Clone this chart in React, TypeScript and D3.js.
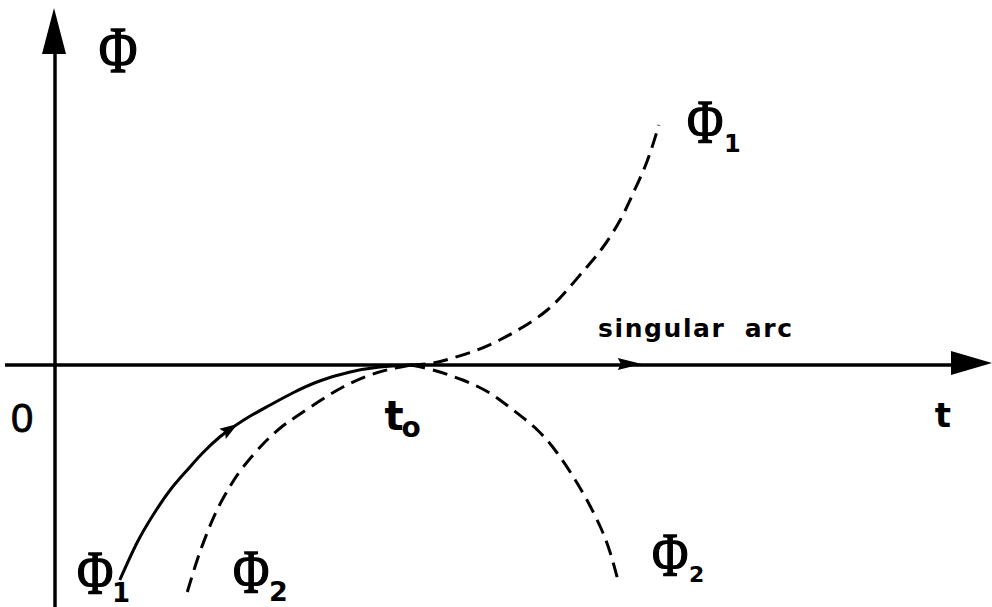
import React from "react";
import * as d3 from "d3";

// ---- data (t in arbitrary units, Φ in arbitrary units) ----
// Φ1 before t0 (solid, trajectory approaching the singular arc)
const tPhi1Left = [7.2, 9.1, 10.9, 12.8, 14.7, 16.4, 18.3, 19.8, 21.7, 23.9, 26.4, 29.4, 32.8, 36.1, 39.5];
const phi1Left = [-21.5, -17.8, -15.0, -12.5, -10.5, -8.8, -7.2, -6.2, -5.1, -4.0, -2.8, -1.6, -0.7, -0.2, 0];
// Φ2 before t0 (dashed)
const tPhi2Left = [14.7, 15.8, 16.9, 18.0, 19.4, 20.9, 22.8, 23.9, 25.3, 26.9, 29.4, 32.0, 35.0, 37.8, 39.5];
const phi2Left = [-22.7, -19.5, -16.8, -14.5, -12.2, -10.2, -8.2, -7.2, -6.1, -5.1, -3.6, -2.2, -1.0, -0.3, 0];
// Φ1 after t0 (dashed, rising)
const tPhi1Right = [39.5, 42.0, 44.2, 46.9, 49.4, 52.0, 54.7, 56.9, 59.1, 60.9, 62.8, 64.3, 65.8, 67.1];
const phi1Right = [0, 0.2, 0.7, 1.5, 2.5, 3.8, 5.5, 7.5, 9.8, 11.8, 14.5, 17.3, 20.4, 24.0];
// Φ2 after t0 (dashed, falling)
const tPhi2Right = [39.5, 42.0, 45.3, 48.3, 50.9, 53.6, 55.8, 57.6, 59.1, 60.6, 61.7, 62.6];
const phi2Right = [0, -0.5, -1.5, -2.8, -4.5, -6.5, -8.8, -11.2, -13.5, -16.2, -18.8, -21.7];

const curveArrowT = 20.3; // direction arrow on Φ1
const singularArrowT = 65.2; // arrow on the singular arc

const yAxisLabel = "Φ";
const xAxisLabel = "t";
const originLabel = "0";
const t0Label = "t";
const t0Sub = "o";
const singularLabel = "singular arc";
const curveLabels = [
  { name: "Φ", sub: "1" }, // upper right
  { name: "Φ", sub: "1" }, // lower left
  { name: "Φ", sub: "2" }, // lower middle
  { name: "Φ", sub: "2" }, // lower right
];

// ---- layout ----
const W = 992;
const H = 607;
const x = d3.scaleLinear().domain([0, 100]).range([55, 955]);
const y = d3.scaleLinear().domain([-24, 36]).range([605, 5]);

const zip = (ts: number[], ps: number[]) => ts.map((t, i) => [t, ps[i]] as [number, number]);

const line = d3
  .line<[number, number]>()
  .x((d) => x(d[0]))
  .y((d) => y(d[1]))
  .curve(d3.curveNatural);

function arrowAt(pts: [number, number][], t: number, len: number, half: number) {
  let i = 0;
  while (i < pts.length - 2 && pts[i + 1][0] < t) i++;
  const a = pts[i];
  const b = pts[i + 1];
  const f = (t - a[0]) / (b[0] - a[0]);
  const px = x(a[0] + f * (b[0] - a[0]));
  const py = y(a[1] + f * (b[1] - a[1]));
  const dx = x(b[0]) - x(a[0]);
  const dy = y(b[1]) - y(a[1]);
  const L = Math.hypot(dx, dy);
  const ux = dx / L;
  const uy = dy / L;
  const bx = px - ux * len;
  const by = py - uy * len;
  return `M${px},${py}L${bx - uy * half},${by + ux * half}L${bx + ux * 3},${by + uy * 3}L${bx + uy * half},${by - ux * half}Z`;
}

const serif = "'Liberation Serif', 'Times New Roman', serif";
const sans = "'Liberation Sans', Arial, sans-serif";
const round = "'DejaVu Sans', 'Liberation Sans', sans-serif";

function Phi({ cx, base, size, text }: { cx: number; base: number; size: number; text: string }) {
  return (
    <text
      transform={`translate(${cx},${base}) scale(0.8,1)`}
      textAnchor="middle"
      fontFamily={serif}
      fontSize={size}
      stroke="#000"
      strokeWidth={1.5}
      fill="#000"
    >
      {text}
    </text>
  );
}

function Sub({ x0, base, size, text }: { x0: number; base: number; size: number; text: string }) {
  return (
    <text x={x0} y={base} fontFamily={round} fontWeight="bold" fontSize={size} fill="#000">
      {text}
    </text>
  );
}

export default function App() {
  const s1L = zip(tPhi1Left, phi1Left);
  const s2L = zip(tPhi2Left, phi2Left);
  const s1R = zip(tPhi1Right, phi1Right);
  const s2R = zip(tPhi2Right, phi2Right);
  const y0 = y(0);
  const x0 = x(0);
  const sx = x(singularArrowT);

  return (
    <svg width={W} height={H} style={{ position: "absolute", left: 0, top: 0, background: "#fff" }}>
      <rect width={W} height={H} fill="#fff" />
      {/* axes */}
      <line x1={x0} y1={50} x2={x0} y2={H} stroke="#000" strokeWidth={3.5} />
      <path d={`M${x0 - 1},8L${x0 - 13},54L${x0 + 11},54Z`} fill="#000" />
      <line x1={5} y1={y0} x2={955} y2={y0} stroke="#000" strokeWidth={3.5} />
      <path d={`M992,${y0 - 2}L951,${y0 - 14}L951,${y0 + 10}Z`} fill="#000" />
      {/* singular arc arrow */}
      <path d={`M${sx},${y0 - 1}L${sx - 24},${y0 - 7}L${sx - 21},${y0 - 1}L${sx - 24},${y0 + 5}Z`} fill="#000" />

      {/* curves */}
      <path d={line(s1L) || ""} fill="none" stroke="#000" strokeWidth={3} />
      <path d={arrowAt(s1L, curveArrowT, 18, 6)} fill="#000" />
      <path d={line(s2L) || ""} fill="none" stroke="#000" strokeWidth={3} strokeDasharray="15 8" />
      <path d={line(s1R) || ""} fill="none" stroke="#000" strokeWidth={3} strokeDasharray="15 8" />
      <path d={line(s2R) || ""} fill="none" stroke="#000" strokeWidth={3} strokeDasharray="15 8" />

      {/* axis labels */}
      <Phi cx={118} base={72} size={66} text={yAxisLabel} />
      <text x={22} y={432} textAnchor="middle" fontFamily={sans} fontSize={40} stroke="#000" strokeWidth={0.8} fill="#000">
        {originLabel}
      </text>
      <text x={943} y={427} textAnchor="middle" fontFamily={round} fontWeight="bold" fontSize={34} fill="#000">
        {xAxisLabel}
      </text>
      <text x={394} y={430} textAnchor="middle" fontFamily={round} fontWeight="bold" fontSize={40} fill="#000">
        {t0Label}
      </text>
      <text x={411} y={437} textAnchor="middle" fontFamily={round} fontWeight="bold" fontSize={28} fill="#000">
        {t0Sub}
      </text>
      <text
        x={598}
        y={337}
        fontFamily={round}
        fontWeight="bold"
        fontSize={25}
        letterSpacing={1.6}
        wordSpacing={9}
        fill="#000"
      >
        {singularLabel}
      </text>

      {/* curve labels */}
      <Phi cx={705} base={142} size={62} text={curveLabels[0].name} />
      <Sub x0={724} base={152} size={24} text={curveLabels[0].sub} />
      <Phi cx={95} base={593} size={62} text={curveLabels[1].name} />
      <Sub x0={112} base={602} size={26} text={curveLabels[1].sub} />
      <Phi cx={251} base={592} size={62} text={curveLabels[2].name} />
      <Sub x0={269} base={601} size={27} text={curveLabels[2].sub} />
      <Phi cx={670} base={575} size={62} text={curveLabels[3].name} />
      <Sub x0={689} base={582} size={22} text={curveLabels[3].sub} />
    </svg>
  );
}
